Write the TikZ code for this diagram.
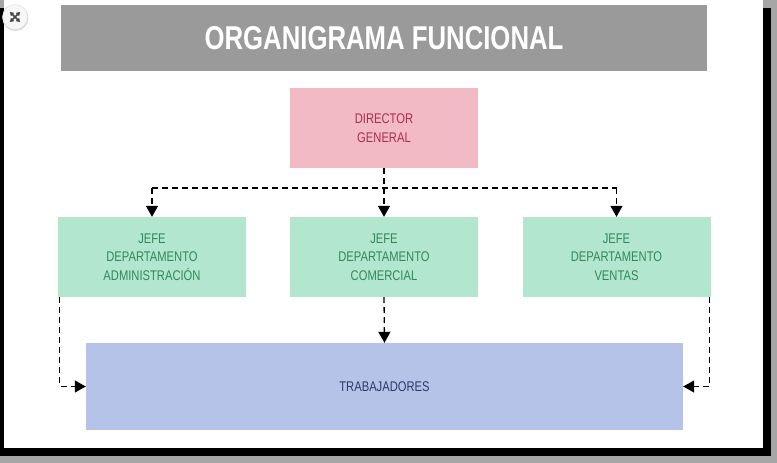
\documentclass[tikz,border=0pt]{standalone}
\usepackage{fontspec}
\setmainfont{Liberation Sans}
\newfontfamily\narrowfont[FakeStretch=0.8]{Liberation Sans}
\newfontfamily\titlefont[FakeStretch=0.78]{Liberation Sans}
\usetikzlibrary{arrows.meta}
\definecolor{pagegrey}{HTML}{A6A6A6}
\definecolor{titlegrey}{HTML}{9B9A9B}
\definecolor{dirpink}{HTML}{F2BAC4}
\definecolor{dirtext}{HTML}{A8304A}
\definecolor{jefegreen}{HTML}{B3E6CF}
\definecolor{jefetext}{HTML}{2E8A5A}
\definecolor{trabblue}{HTML}{B4C3E7}
\definecolor{trabtext}{HTML}{2C3A6A}
\tikzstyle{block} = [rectangle, inner sep=0pt, align=center,
                 font=\narrowfont\fontsize{14}{18.5}\selectfont]
\tikzstyle{director} = [block, fill=dirpink, text=dirtext,
                 minimum width=188pt, minimum height=80pt]
\tikzstyle{jefe} = [block, fill=jefegreen, text=jefetext,
                 minimum width=188pt, minimum height=80pt]
\tikzstyle{trab} = [block, fill=trabblue, text=trabtext,
                 minimum width=597pt, minimum height=87pt]
\tikzstyle{dashline} = [draw, line width=1.3pt, dash pattern=on 6pt off 4pt]
\tikzstyle{link} = [dashline, -{Triangle[length=11pt,width=12pt]}]
\begin{document}
\begin{tikzpicture}[x=1pt,y=-1pt]
\useasboundingbox (0,0) rectangle (777,463);

% frame
\fill[pagegrey] (0,0) rectangle (777,463);
\fill[black] (0,8) rectangle (771,456);
\fill[white] (4,0) rectangle (763,448);
\fill[gray!30] (15.5,18) circle (13);
\filldraw[fill=gray!6, draw=gray!25] (15,17) circle (12.5);
\foreach \a in {45,135,225,315}
	\draw[-{Triangle[length=3.5pt,width=4.5pt]}, line width=1.5pt, gray!55!black]
		(15,17) -- ++(\a:7);

\node [block, fill=titlegrey, text=white, minimum width=646pt, minimum height=66pt,
       font=\titlefont\bfseries\fontsize{33}{33}\selectfont] at (384,38) (titulo) {ORGANIGRAMA FUNCIONAL};

\node [director] at (384,128) (dir) {DIRECTOR\\GENERAL};

\node [jefe] at (152,257) (adm) {JEFE\\DEPARTAMENTO\\ADMINISTRACIÓN};
\node [jefe] at (384,257) (com) {JEFE\\DEPARTAMENTO\\COMERCIAL};
\node [jefe] at (616.5,257) (ven) {JEFE\\DEPARTAMENTO\\VENTAS};

\node [trab] at (384.5,386.5) (trabajadores) {TRABAJADORES};

\coordinate (bus) at (384,188);

\path [dashline] (dir.south) -- (bus);
\path [dashline] (adm.north |- bus) -- (ven.north |- bus);
\path [link] (bus) -- (com.north);
\path [link] (adm.north |- bus) -- (adm.north);
\path [link] (ven.north |- bus) -- (ven.north);
\path [link] (com.south) -- (trabajadores.north);
\path [link] ([xshift=2pt]adm.south west) |- (trabajadores.west);
\path [link] ([xshift=-1pt]ven.south east) |- (trabajadores.east);

\end{tikzpicture}
\end{document}
